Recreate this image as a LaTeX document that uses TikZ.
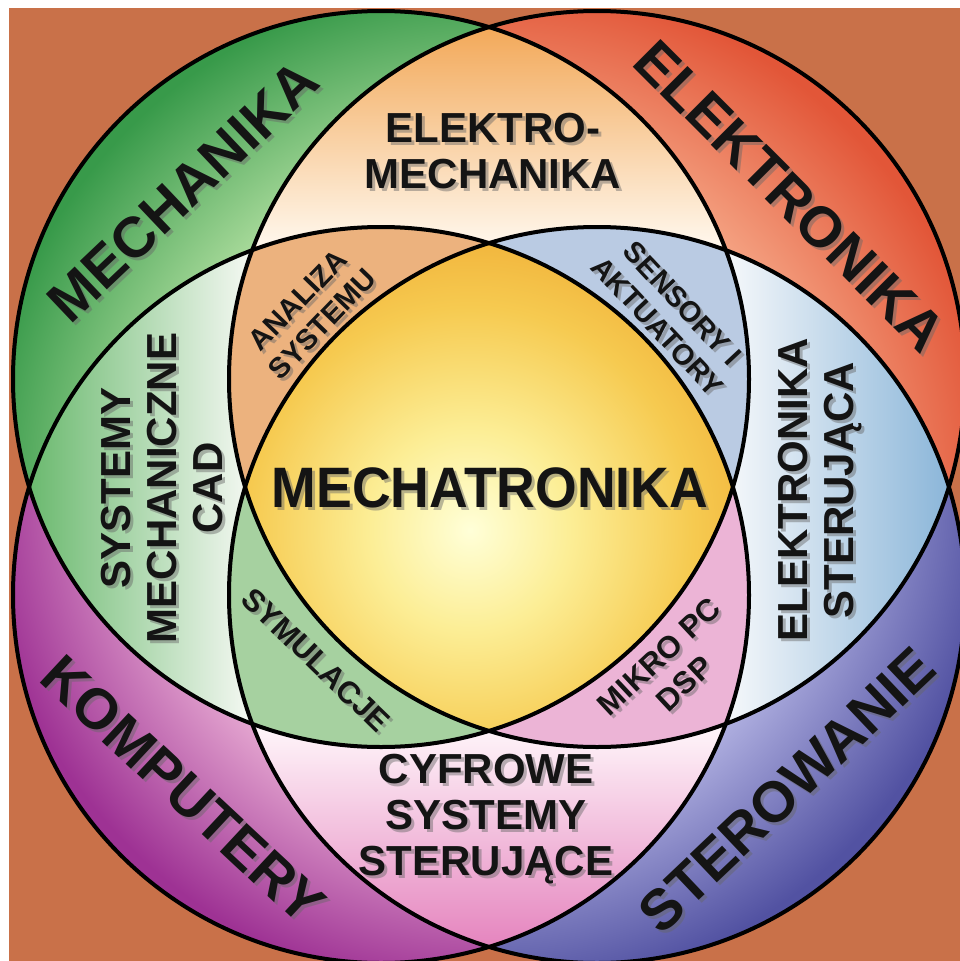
\documentclass[tikz,border=0pt]{standalone}
\usepackage{fontspec}
\setmainfont{Liberation Sans}
\definecolor{bgbrown}{RGB}{201,113,73}
\definecolor{gD}{RGB}{56,154,74}
\definecolor{gL}{RGB}{165,216,152}
\definecolor{rD}{RGB}{226,86,56}
\definecolor{rL}{RGB}{244,160,128}
\definecolor{pD}{RGB}{158,50,148}
\definecolor{pL}{RGB}{226,162,206}
\definecolor{bD}{RGB}{82,82,162}
\definecolor{bL}{RGB}{172,172,222}
\definecolor{emTop}{RGB}{242,166,84}
\definecolor{emBot}{RGB}{255,247,236}
\definecolor{smL}{RGB}{104,184,108}
\definecolor{smR}{RGB}{244,248,242}
\definecolor{esL}{RGB}{244,247,250}
\definecolor{esR}{RGB}{136,180,216}
\definecolor{csT}{RGB}{255,246,250}
\definecolor{csB}{RGB}{228,128,188}
\definecolor{anC}{RGB}{236,178,126}
\definecolor{seC}{RGB}{186,203,227}
\definecolor{syC}{RGB}{166,209,160}
\definecolor{miC}{RGB}{236,180,214}
\definecolor{yA}{RGB}{255,255,216}
\definecolor{yB}{RGB}{252,238,150}
\definecolor{yC}{RGB}{246,202,80}
\definecolor{yD}{RGB}{240,176,56}
\pgfdeclareradialshading{shG}{\pgfpoint{0bp}{0bp}}{color(0bp)=(gL); color(16bp)=(gL); color(24bp)=(gD); color(50bp)=(gD)}
\pgfdeclareradialshading{shR}{\pgfpoint{0bp}{0bp}}{color(0bp)=(rL); color(16bp)=(rL); color(24bp)=(rD); color(50bp)=(rD)}
\pgfdeclareradialshading{shP}{\pgfpoint{0bp}{0bp}}{color(0bp)=(pL); color(16bp)=(pL); color(24bp)=(pD); color(50bp)=(pD)}
\pgfdeclareradialshading{shB}{\pgfpoint{0bp}{0bp}}{color(0bp)=(bL); color(16bp)=(bL); color(24bp)=(bD); color(50bp)=(bD)}
\pgfdeclareradialshading{shY}{\pgfpoint{0bp}{0bp}}{color(0bp)=(yA); color(8bp)=(yB); color(18bp)=(yC); color(25bp)=(yD); color(50bp)=(yD)}
\tikzset{
  ring/.style={line width=4pt, draw=black},
  txt/.style={text=black!92, inner sep=0pt, align=center},
  shd/.style={text=black!60, opacity=0.45, inner sep=0pt, align=center},
  fbig/.style={font=\fontsize{57}{60}\selectfont\bfseries},
  fmid/.style={font=\fontsize{42}{46}\selectfont\bfseries},
  fsmall/.style={font=\fontsize{29}{34}\selectfont\bfseries},
  fsm31/.style={font=\fontsize{31}{37}\selectfont\bfseries},
}
\newcommand{\mylbl}[6]{%
  \node[shd,rotate=#4,#5] at (#2+3,#3+3) {#6};
  \node[txt,rotate=#4,#5] (#1) at (#2,#3) {#6};}
\begin{document}
\begin{tikzpicture}[x=1pt,y=-1pt]
\useasboundingbox (0,0) rectangle (960,961);
\clip (0,0) rectangle (960,961);
\fill[white] (0,0) rectangle (960,961);
\fill[bgbrown] (9,8) rectangle (960,961);
\def\R{368}
\coordinate (cTL) at (381,379);
\coordinate (cTR) at (597,379);
\coordinate (cBL) at (381,595);
\coordinate (cBR) at (597,595);
\coordinate (mid) at (489,487);
% outer crescents
\begin{scope}\clip (cTL) circle (\R); \shade[shading=shG] (mid) circle (530);\end{scope}
\begin{scope}\clip (cTR) circle (\R); \shade[shading=shR] (mid) circle (530);\end{scope}
\begin{scope}\clip (cBL) circle (\R); \shade[shading=shP] (mid) circle (530);\end{scope}
\begin{scope}\clip (cBR) circle (\R); \shade[shading=shB] (mid) circle (530);\end{scope}
% two-way
\begin{scope}\clip (cTL) circle (\R); \clip (cTR) circle (\R);
  \shade[top color=emTop, bottom color=emBot] (200,20) rectangle (780,245);\end{scope}
\begin{scope}\clip (cTL) circle (\R); \clip (cBL) circle (\R);
  \shade[left color=smL, right color=smR] (25,200) rectangle (250,780);\end{scope}
\begin{scope}\clip (cTR) circle (\R); \clip (cBR) circle (\R);
  \shade[left color=esL, right color=esR] (730,200) rectangle (955,780);\end{scope}
\begin{scope}\clip (cBL) circle (\R); \clip (cBR) circle (\R);
  \shade[top color=csT, bottom color=csB] (200,725) rectangle (780,955);\end{scope}
% three-way
\begin{scope}\clip (cTL) circle (\R); \clip (cTR) circle (\R); \clip (cBL) circle (\R);
  \fill[anC] (0,0) rectangle (960,961);\end{scope}
\begin{scope}\clip (cTL) circle (\R); \clip (cTR) circle (\R); \clip (cBR) circle (\R);
  \fill[seC] (0,0) rectangle (960,961);\end{scope}
\begin{scope}\clip (cTL) circle (\R); \clip (cBL) circle (\R); \clip (cBR) circle (\R);
  \fill[syC] (0,0) rectangle (960,961);\end{scope}
\begin{scope}\clip (cTR) circle (\R); \clip (cBL) circle (\R); \clip (cBR) circle (\R);
  \fill[miC] (0,0) rectangle (960,961);\end{scope}
% four-way
\begin{scope}\clip (cTL) circle (\R); \clip (cTR) circle (\R); \clip (cBL) circle (\R); \clip (cBR) circle (\R);
  \shade[shading=shY] (470,530) circle (310);\end{scope}
% outlines
\draw[ring] (cTL) circle (\R);
\draw[ring] (cTR) circle (\R);
\draw[ring] (cBL) circle (\R);
\draw[ring] (cBR) circle (\R);
% labels
\mylbl{mechatronika}{490}{488}{0}{fbig,xscale=0.94}{MECHATRONIKA}
\mylbl{mechanika}{183}{191}{43.5}{fbig}{MECHANIKA}
\mylbl{elektronika}{790}{196}{-45}{fbig}{ELEKTRONIKA}
\mylbl{komputery}{183}{790}{-43}{fbig}{KOMPUTERY}
\mylbl{sterowanie}{787}{790}{43.5}{fbig}{STEROWANIE}
\mylbl{elmech}{493}{151}{0}{fmid}{ELEKTRO-\\MECHANIKA}
\mylbl{sysmech}{162}{488}{90}{fmid}{SYSTEMY\\MECHANICZNE\\CAD}
\mylbl{elster}{820}{490}{90}{fmid}{ELEKTRONIKA\\STERUJĄCA}
\mylbl{cyfrowe}{486}{819}{0}{fmid}{CYFROWE\\SYSTEMY\\STERUJĄCE}
\mylbl{analiza}{310}{312}{46}{fsmall}{ANALIZA\\SYSTEMU}
\mylbl{sensory}{670}{315}{-47}{fsmall}{SENSORY I\\AKTUATORY}
\mylbl{symulacje}{316}{660}{-44}{fsm31}{SYMULACJE}
\mylbl{mikro}{672}{670}{43}{fsm31}{MIKRO PC\\DSP}
\end{tikzpicture}
\end{document}
